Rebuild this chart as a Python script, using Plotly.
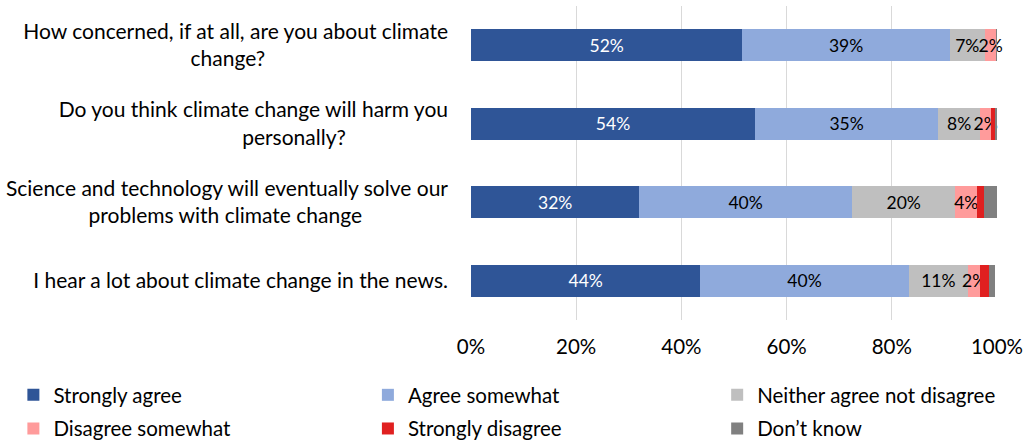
import plotly.graph_objects as go

questions = [
    "How concerned, if at all, are you about climate<br>change?",
    "Do you think climate change will harm you<br>personally?",
    "Science and technology will eventually solve our<br>problems with climate change",
    "I hear a lot about climate change in the news.",
]
series_names = ["Strongly agree", "Agree somewhat", "Neither agree not disagree",
                "Disagree somewhat", "Strongly disagree", "Don\u2019t know"]
strongly_agree = [51.6, 54.0, 32.0, 43.6]
agree_somewhat = [39.4, 34.8, 40.4, 39.6]
neither = [6.7, 8.0, 19.7, 11.3]
disagree_somewhat = [2.2, 2.1, 4.1, 2.3]
strongly_disagree = [0.0, 0.9, 1.3, 1.6]
dont_know = [0.1, 0.2, 2.5, 1.3]
x_ticks = [0, 20, 40, 60, 80, 100]
x_tick_labels = ["0%", "20%", "40%", "60%", "80%", "100%"]

values = [strongly_agree, agree_somewhat, neither, disagree_somewhat, strongly_disagree, dont_know]
colors = ["#2F5597", "#8FAADC", "#BFBFBF", "#FF9B9B", "#E02020", "#808080"]
text_colors = ["white", "black", "black", "black", "black", "black"]
show_labels = [True, True, True, True, False, False]
legend_ids = ["legend", "legend2", "legend3", "legend", "legend2", "legend3"]

FONT = "Lato, Carlito, Calibri, sans-serif"

# second-line padding so wrapped lines sit like the original centred text
pads = [34, 19, 16, 0]
tick_text = [q + "\u00a0" * p for q, p in zip(questions, pads)]

fig = go.Figure()
for i, (name, vals, col, tcol) in enumerate(zip(series_names, values, colors, text_colors)):
    labels = [f"{round(v)}%" if (show_labels[i] and v >= 1.9) else "" for v in vals]
    fig.add_trace(go.Bar(
        y=questions, x=vals, name=name, orientation="h",
        marker=dict(color=col, line=dict(width=0)),
        text=labels, textposition="inside", insidetextanchor="middle", textangle=0,
        textfont=dict(color=tcol, size=17.5, family=FONT),
        cliponaxis=False, legend=legend_ids[i], legendgroup=name,
    ))

leg_common = dict(orientation="v", xref="paper", yref="container", y=0.1535, yanchor="top",
                  xanchor="left", font=dict(size=20.5), itemwidth=30, tracegroupgap=4,
                  bgcolor="rgba(0,0,0,0)")
fig.update_layout(
    barmode="stack",
    width=1029, height=443,
    margin=dict(l=470, r=29, t=6, b=123),
    paper_bgcolor="white", plot_bgcolor="white",
    font=dict(family=FONT, size=20.5, color="#000000"),
    bargap=0.59,
    uniformtext=dict(minsize=17.5, mode="show"),
    legend=dict(x=-0.870, **leg_common),
    legend2=dict(x=-0.196, **leg_common),
    legend3=dict(x=0.468, **leg_common),
    xaxis=dict(range=[0, 100], tickvals=x_ticks, ticktext=x_tick_labels,
               showgrid=True, gridcolor="#D9D9D9", gridwidth=1,
               zeroline=False, showline=False, ticks="", ticklabelstandoff=12,
               tickfont=dict(size=20.5)),
    yaxis=dict(autorange="reversed", showgrid=False, zeroline=False, showline=False,
               ticks="", ticklabelstandoff=22, tickfont=dict(size=21),
               tickmode="array", tickvals=questions, ticktext=tick_text),
)

fig.write_html("out.html")
